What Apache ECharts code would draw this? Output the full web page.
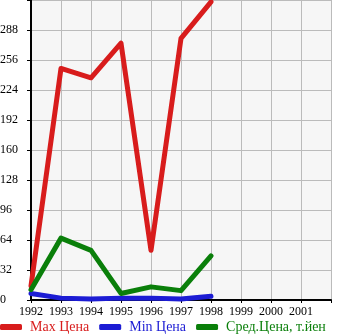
<!DOCTYPE html>
<html><head><meta charset="utf-8">
<script src="https://cdn.jsdelivr.net/npm/echarts@6/dist/echarts.min.js"></script>
<style>html,body{margin:0;padding:0;background:#fff}#c{width:345px;height:335px}</style>
</head><body><div id="c"></div>
<script>
var years = ['1992','1993','1994','1995','1996','1997','1998','1999','2000','2001','2002'];
var maxPrice = [15, 247, 237, 274, 53, 279, 318];
var minPrice = [7, 2, 1, 2, 2, 1, 4];
var avgPrice = [11, 66, 53, 7, 14, 10, 47];
var seriesNames = ['Max Цена', 'Min Цена', 'Сред.Цена, т.йен'];
var colors = ['#d81c1c', '#1c1cd4', '#0a7f0a'];

var chart = echarts.init(document.getElementById('c'));
var font = '"Liberation Serif", "DejaVu Serif", serif';
function mk(name, data, color) {
  return { name: name, type: 'line', data: data, symbol: 'none',
    lineStyle: { width: 5, color: color, cap: 'round', join: 'round' },
    itemStyle: { color: color }, z: 3 };
}
chart.setOption({
  animation: false,
  grid: { left: 31, right: 14, top: 0, bottom: 35, show: true, backgroundColor: '#f6f6f6', borderWidth: 0,
    containLabel: false, outerBoundsMode: 'none' },
  legend: {
    top: 320, left: 0, itemGap: 10, itemWidth: 22, itemHeight: 6, icon: 'roundRect', padding: 0,
    textStyle: { fontFamily: font, fontSize: 14, padding: [0, 0, 0, 3] },
    data: seriesNames.map(function (n, i) { return { name: n, textStyle: { color: colors[i], padding: [0, 0, 0, 3] } }; })
  },
  xAxis: {
    type: 'category', data: years, boundaryGap: false,
    axisLine: { lineStyle: { color: '#000', width: 2 } },
    axisTick: { length: 3, interval: 0, lineStyle: { color: '#000' } },
    axisLabel: { color: '#000', fontFamily: font, fontSize: 12, margin: 6, interval: 0,
      formatter: function (v) { return v === '2002' ? '' : v; } },
    splitLine: { show: true, interval: 0, lineStyle: { color: '#bbbbbb', width: 1 } }
  },
  yAxis: {
    type: 'value', min: 0, max: 320, interval: 32,
    axisLine: { show: true, lineStyle: { color: '#000', width: 2 } },
    axisTick: { show: true, length: 4, lineStyle: { color: '#000' } },
    axisLabel: { color: '#000', fontFamily: font, fontSize: 12, margin: 31, align: 'left',
      padding: [0, 0, 7, 0],
      formatter: function (v) { return v === 320 ? '' : v; } },
    splitLine: { show: true, lineStyle: { color: '#bbbbbb', width: 1 } }
  },
  series: [
    mk(seriesNames[0], maxPrice, colors[0]),
    mk(seriesNames[1], minPrice, colors[1]),
    mk(seriesNames[2], avgPrice, colors[2])
  ]
});
</script></body></html>
